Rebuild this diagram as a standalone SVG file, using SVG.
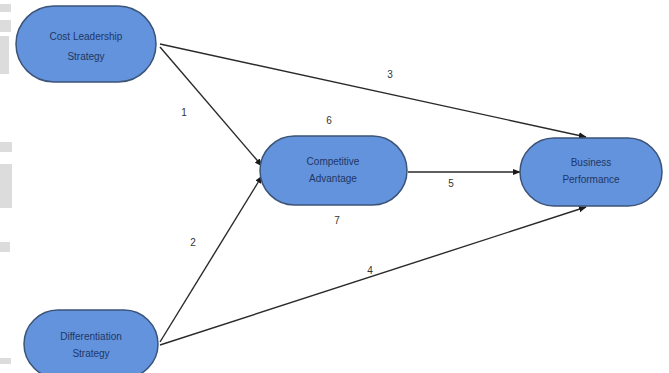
<svg xmlns="http://www.w3.org/2000/svg" width="669" height="373" viewBox="0 0 669 373">
<defs>
<style>
.node{fill:#6393dc;stroke:#3b5478;stroke-width:1.5}
.nt{font-family:"Liberation Sans",Arial,sans-serif;font-size:10px;fill:#1e3766;text-anchor:middle}
.lbl{font-family:"Liberation Sans",Arial,sans-serif;font-size:10px;fill:#333;text-anchor:middle}
.edge{stroke:#2a2a2a;stroke-width:1.4;fill:none;marker-end:url(#ah)}
.bg{fill:#dcdcdc}
</style>
<marker id="ah" viewBox="0 0 10 10" refX="9" refY="5" markerWidth="8" markerHeight="8" markerUnits="userSpaceOnUse" orient="auto">
<path d="M0,1 L10,5 L0,9 z" fill="#1a1a1a"/>
</marker>
</defs>
<rect width="669" height="373" fill="#ffffff"/>
<g id="margin">
<rect class="bg" x="0" y="4" width="11" height="8"/>
<rect class="bg" x="0" y="20" width="11" height="12"/>
<rect class="bg" x="0" y="36" width="9" height="38"/>
<rect class="bg" x="0" y="142" width="12" height="10"/>
<rect class="bg" x="0" y="164" width="12" height="44"/>
<rect class="bg" x="0" y="242" width="10" height="10"/>
<rect class="bg" x="0" y="358" width="11" height="6"/>
</g>
<g id="connectors">
<line class="edge" x1="160" y1="47" x2="262" y2="166"/>
<line class="edge" x1="160" y1="44" x2="586" y2="137"/>
<line class="edge" x1="160" y1="342" x2="262" y2="176"/>
<line class="edge" x1="160" y1="345" x2="586" y2="207"/>
<line class="edge" x1="408" y1="172" x2="520" y2="172"/>
<text class="lbl" x="184" y="116">1</text>
<text class="lbl" x="193" y="246">2</text>
<text class="lbl" x="390" y="78">3</text>
<text class="lbl" x="370" y="274">4</text>
<text class="lbl" x="451" y="187">5</text>
<text class="lbl" x="329" y="124">6</text>
<text class="lbl" x="337" y="224">7</text>
</g>
<g id="cost">
<rect class="node" x="16" y="6" width="140" height="76" rx="38"/>
<text class="nt" x="86" y="40">Cost  Leadership</text>
<text class="nt" x="86" y="60">Strategy</text>
</g>
<g id="diff">
<rect class="node" x="24" y="310" width="134" height="68" rx="34"/>
<text class="nt" x="91" y="340">Differentiation</text>
<text class="nt" x="91" y="357">Strategy</text>
</g>
<g id="comp">
<rect class="node" x="260" y="136" width="147" height="69" rx="34.5"/>
<text class="nt" x="333" y="165">Competitive</text>
<text class="nt" x="333" y="182">Advantage</text>
</g>
<g id="biz">
<rect class="node" x="520" y="138" width="142" height="68" rx="34"/>
<text class="nt" x="591" y="166">Business</text>
<text class="nt" x="591" y="183">Performance</text>
</g>
</svg>
